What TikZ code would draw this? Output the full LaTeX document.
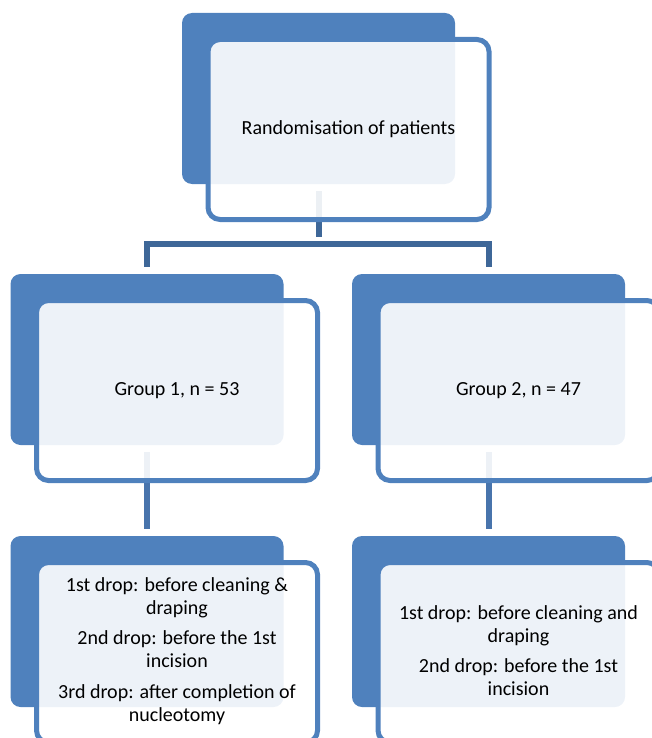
\documentclass[tikz,border=0pt]{standalone}
\usepackage{fontspec}
\setmainfont{Carlito}
\usetikzlibrary{positioning}

\definecolor{smblue}{RGB}{79,129,189}
\definecolor{treeblue}{RGB}{62,103,152}
\definecolor{linkblue}{RGB}{72,116,172}

\tikzset{
  backbox/.style = {rectangle, rounded corners = 10pt, fill = smblue,
    minimum width = 273pt, minimum height = 171pt, inner sep = 0pt},
  frontbox/.style = {rectangle, rounded corners = 12pt, draw = smblue,
    line width = 5pt, fill = white, fill opacity = 0.9, text opacity = 1,
    minimum width = 281pt, minimum height = 180pt, inner sep = 0pt,
    align = center, font = \fontsize{20}{23}\selectfont},
  boxtext/.style = {align = center, inner sep = 0pt,
    font = \fontsize{20}{23}\selectfont},
  link/.style = {line width = 6pt, shorten < = 7pt, shorten > = 7pt}
}

\begin{document}
\begin{tikzpicture} [x = 1pt, y = -1pt, node distance = 2cm, on grid]

\useasboundingbox (0,0) rectangle (651,738);

% back boxes
\node (rndback) [backbox] at (318.5,98.5) {};
\node (g1back) [backbox, below left = 261pt and 171.5pt of rndback] {};
\node (g2back) [backbox, right = 341.5pt of g1back] {};
\node (d1back) [backbox, below = 262pt of g1back] {};
\node (d2back) [backbox, below = 262pt of g2back] {};

% connectors
\coordinate (fork) at ([yshift = -145.5pt]rndback.center);
\draw [link, treeblue] (rndback.south) -- (fork -| rndback.south);
\draw [link, treeblue, line join = miter] (g1back.north) |- (fork) -| (g2back.north);
\draw [link, linkblue] (g1back.south) -- (d1back.north);
\draw [link, linkblue] (g2back.south) -- (d2back.north);

% front boxes
\node (rnd) [frontbox, below right = 31pt and 30pt of rndback] {Randomisation of patients};
\node (g1) [frontbox, below right = 31pt and 30pt of g1back] {Group 1, n = 53};
\node (g2) [frontbox, below right = 31pt and 30pt of g2back] {Group 2, n = 47};
\node (d1) [frontbox, below right = 31pt and 30pt of d1back] {};
\node (d2) [frontbox, below right = 31pt and 30pt of d2back] {};

\node (d1text) [boxtext] at ([yshift = 1.5pt]d1.center)
  {1st drop: before cleaning \&\\ draping\\[7pt]
   2nd drop: before the 1st\\ incision\\[8pt]
   3rd drop: after completion of\\ nucleotomy};
\node (d2text) [boxtext] at ([yshift = 2pt]d2.center)
  {1st drop: before cleaning and\\ draping\\[7pt]
   2nd drop: before the 1st\\ incision};

\end{tikzpicture}
\end{document}
